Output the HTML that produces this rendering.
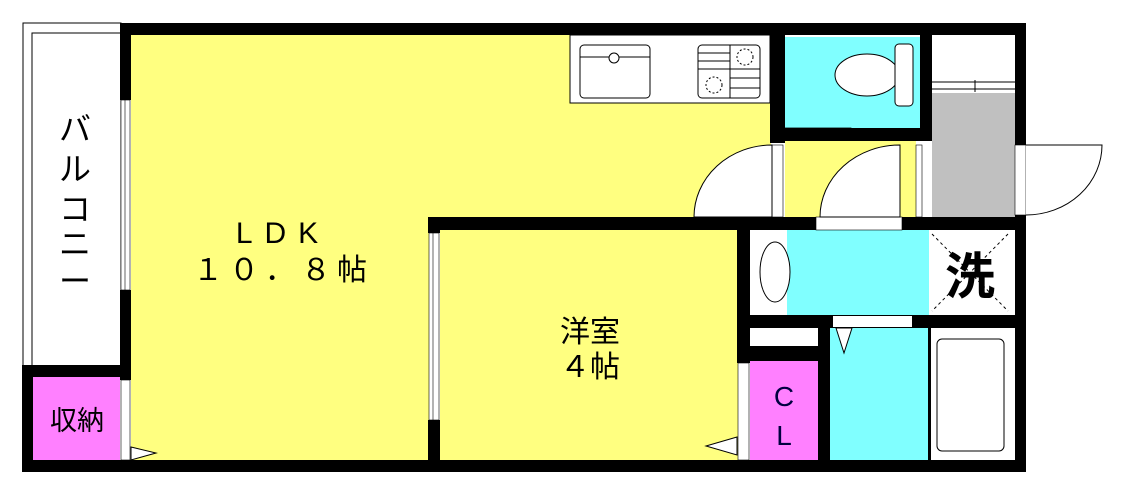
<!DOCTYPE html>
<html><head><meta charset="utf-8"><style>
html,body{margin:0;padding:0;background:#fff;}
svg{display:block}
text{font-family:"Liberation Sans","Noto Sans CJK JP",sans-serif;}
</style></head><body>
<svg width="1126" height="502" viewBox="0 0 1126 502" xmlns="http://www.w3.org/2000/svg">
<rect x="23" y="23" width="98" height="343" fill="#fff" stroke="#000" stroke-width="1"/>
<rect x="32" y="33" width="89" height="333" fill="#fff" stroke="#000" stroke-width="1"/>
<rect x="131" y="35" width="640" height="183" fill="#ffff80"/>
<rect x="131" y="35" width="298" height="426" fill="#ffff80"/>
<rect x="570" y="35" width="200" height="68" fill="#fff" stroke="#000" stroke-width="1"/>
<rect x="580" y="45" width="70" height="53" rx="4" fill="#fff" stroke="#000"/>
<line x1="580" y1="57" x2="650" y2="57" stroke="#000"/>
<circle cx="614" cy="58" r="5" fill="#fff" stroke="#000"/>
<rect x="698" y="45" width="62" height="53" rx="4" fill="#fff" stroke="#000"/>
<g stroke="#000"><line x1="698" y1="53" x2="730" y2="53"/><line x1="698" y1="61" x2="730" y2="61"/><line x1="698" y1="69" x2="760" y2="69"/><line x1="730" y1="78" x2="760" y2="78"/><line x1="730" y1="88" x2="760" y2="88"/><line x1="730" y1="45" x2="730" y2="98"/></g>
<circle cx="745" cy="57" r="8" fill="none" stroke="#000" stroke-dasharray="2,2"/>
<circle cx="714" cy="85" r="8" fill="none" stroke="#000" stroke-dasharray="2,2"/>
<rect x="784" y="37" width="137" height="93" fill="#80ffff"/>
<ellipse cx="867" cy="75" rx="32" ry="21" fill="#fff" stroke="#000"/>
<rect x="895" y="44" width="18" height="62" rx="4" fill="#fff" stroke="#000"/>
<rect x="785" y="128" width="66" height="10" fill="#fff" stroke="#000" stroke-width="0.8"/>
<line x1="851" y1="130" x2="920" y2="130" stroke="#000" stroke-dasharray="2,1"/>
<rect x="785" y="141" width="131" height="77" fill="#ffff80"/>
<rect x="932" y="37" width="83" height="180" fill="#fff"/>
<rect x="932" y="93" width="83" height="125" fill="#c0c0c0"/>
<line x1="932" y1="82" x2="1015" y2="82" stroke="#000"/><line x1="932" y1="89" x2="1015" y2="89" stroke="#000"/><line x1="975" y1="80" x2="975" y2="92" stroke="#000"/>
<rect x="440" y="230" width="298" height="231" fill="#ffff80"/>
<rect x="750" y="230" width="180" height="85" fill="#fff"/>
<rect x="787" y="230" width="142" height="85" fill="#80ffff"/>
<ellipse cx="775" cy="272" rx="15" ry="30" fill="#fff" stroke="#000"/>
<rect x="930" y="232" width="80" height="81" fill="#fff"/>
<g stroke="#000" stroke-dasharray="3,3"><line x1="932" y1="234" x2="1008" y2="311"/><line x1="1008" y1="234" x2="932" y2="311"/></g>
<rect x="830" y="328" width="99" height="133" fill="#80ffff"/>
<rect x="928" y="330" width="83" height="131" fill="#fff"/>
<rect x="937" y="339" width="67" height="112" rx="5" fill="#fff" stroke="#000"/>
<rect x="750" y="361" width="68" height="100" fill="#ff80ff"/>
<rect x="33" y="377" width="87" height="84" fill="#ff80ff"/>
<g fill="#000">
<rect x="120" y="23" width="906" height="12"/>
<rect x="120" y="23" width="11" height="77"/>
<rect x="120" y="290" width="11" height="90"/>
<rect x="22" y="365" width="109" height="12"/>
<rect x="22" y="365" width="11" height="107"/>
<rect x="22" y="460" width="1004" height="12"/>
<rect x="1015" y="23" width="11" height="449"/>
<rect x="770" y="23" width="15" height="120"/>
<rect x="770" y="128" width="162" height="13"/>
<rect x="920" y="23" width="12" height="118"/>
<rect x="428" y="217" width="598" height="13"/>
<rect x="428" y="217" width="12" height="16"/>
<rect x="428" y="420" width="12" height="52"/>
<rect x="737" y="217" width="13" height="146"/>
<rect x="737" y="315" width="289" height="13"/>
<rect x="818" y="315" width="12" height="157"/>
<rect x="737" y="346" width="93" height="15"/>
<rect x="928" y="315" width="3" height="157"/>
</g>
<rect x="121" y="100" width="9" height="190" fill="#fff" stroke="#000" stroke-width="0.6"/>
<line x1="125" y1="100" x2="125" y2="290" stroke="#000" stroke-width="0.6"/>
<rect x="121" y="380" width="9" height="80" fill="#fff" stroke="#000" stroke-width="0.6"/>
<polygon points="131,447 156,453 131,460" fill="#fff" stroke="#000"/>
<rect x="429" y="233" width="10" height="187" fill="#fff" stroke="#000" stroke-width="0.6"/>
<line x1="433" y1="233" x2="433" y2="420" stroke="#000" stroke-width="0.6"/>
<rect x="738" y="363" width="11" height="97" fill="#fff" stroke="#000" stroke-width="0.6"/>
<polygon points="737,437 706,446 737,455" fill="#fff" stroke="#000"/>
<rect x="750" y="328" width="68" height="18" fill="#fff"/>
<rect x="833" y="316" width="79" height="11" fill="#fff"/>
<polygon points="836,328 852,328 844,353" fill="#fff" stroke="#000"/>
<rect x="816" y="217" width="86" height="13" fill="#fff" stroke="#000" stroke-width="0.6"/>
<rect x="772" y="145" width="11" height="72" fill="#fff" stroke="#000" stroke-width="0.6"/>
<path d="M772,145 A78,72 0 0 0 694,217 L772,217 Z" fill="#fff" stroke="#000"/>
<rect x="916" y="145" width="6" height="72" fill="#fff" stroke="#000" stroke-width="0.6"/>
<path d="M900,145 A80,72 0 0 0 820,217 L900,217 Z" fill="#fff" stroke="#000"/>
<rect x="1015" y="145" width="11" height="70" fill="#fff" stroke="#000" stroke-width="0.6"/>
<path d="M1026,145 L1102,145 A76,70 0 0 1 1026,215" fill="#fff" stroke="#000"/>
<g font-size="30" fill="#000">
<text x="283" y="243" text-anchor="middle" letter-spacing="12">LDK</text>
<text x="283" y="280" text-anchor="middle" letter-spacing="6">１０．８帖</text>
<text x="590" y="342" text-anchor="middle">洋室</text>
<text x="590" y="377" text-anchor="middle">４帖</text>
<text x="77" y="430" text-anchor="middle" font-size="27">収納</text>
<text x="784" y="406" text-anchor="middle" font-size="28" fill="#000040">C</text>
<text x="784" y="445" text-anchor="middle" font-size="28" fill="#000040">L</text>
<text x="970" y="294" text-anchor="middle" font-size="50" font-weight="bold">洗</text>
</g>
<g font-size="32" fill="#000" text-anchor="middle">
<text x="75" y="140">バ</text><text x="75" y="180">ル</text><text x="75" y="220">コ</text><text x="75" y="255">ニ</text><text x="75" y="292">ー</text>
</g>
</svg>
</body></html>
